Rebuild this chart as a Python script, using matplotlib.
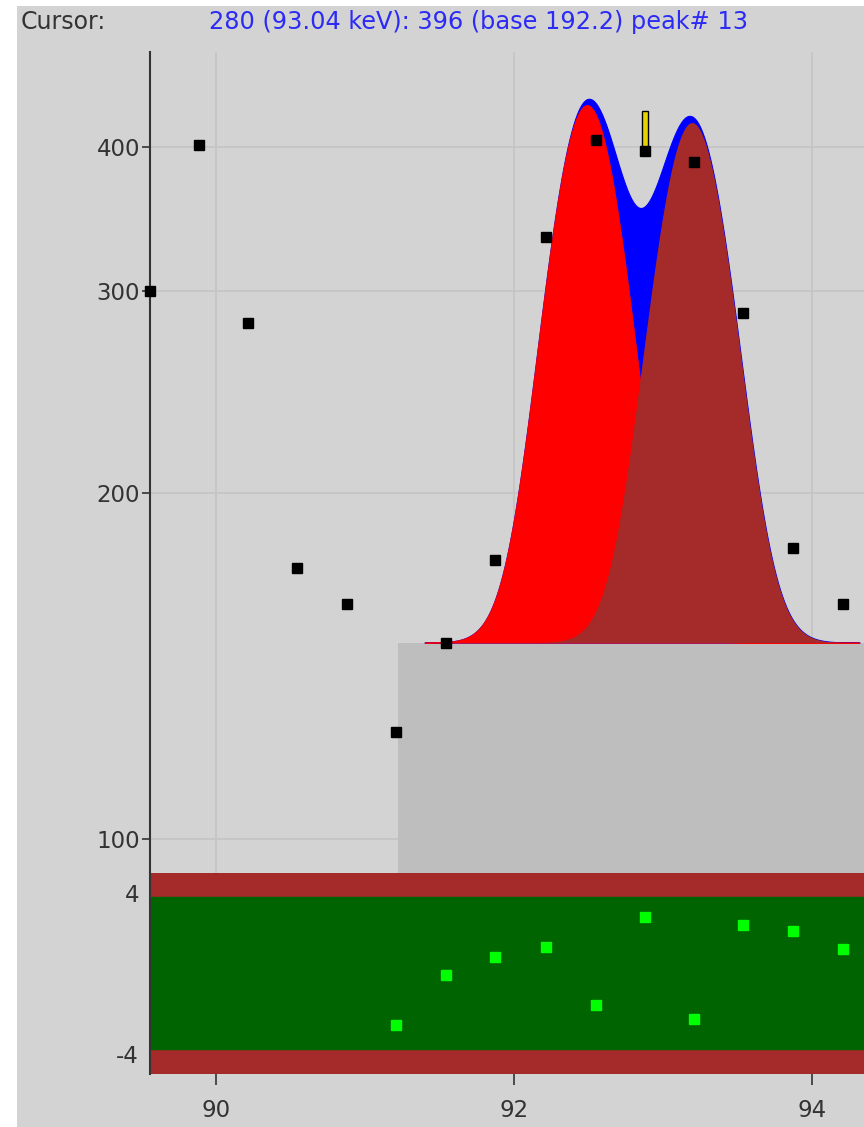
import numpy as np
import matplotlib
matplotlib.use("Agg")
import matplotlib.pyplot as plt
from matplotlib.patches import Rectangle

# channel data (keV, counts)
energy = [89.557, 89.886, 90.215, 90.544, 90.879, 91.208, 91.544, 91.872,
          92.215, 92.550, 92.879, 93.208, 93.537, 93.872, 94.208]
counts = [300, 402, 281, 172, 160, 124, 148, 175, 334, 406, 397, 388, 287, 179, 160]

# residuals for the fitted region
res_energy = [91.208, 91.544, 91.872, 92.215, 92.550, 92.879, 93.208, 93.537, 93.872, 94.208]
residuals = [-2.56, -0.07, 0.82, 1.32, -1.57, 2.81, -2.26, 2.41, 2.11, 1.22]

# fit: flat continuum + two gaussian peaks
continuum_level = 148.2
continuum_start = 91.22
peak_centers = [92.49, 93.195]
peak_amps = [287, 272]
peak_sigmas = [0.249, 0.25]
fit_range = (91.40, 94.32)

cursor_energy = 92.879
cursor_lo, cursor_hi = 398, 430

bg = '#d3d3d3'
fig = plt.figure(figsize=(8.64, 11.27), dpi=100, facecolor='white')
fig.patches.append(Rectangle((17/864, 0), 1, 1 - 6/1127, transform=fig.transFigure,
                             facecolor=bg, edgecolor='none', zorder=-10))

ax = fig.add_axes([150/864, 1 - 873/1127, 1 - 150/864, (873 - 52)/1127])
axr = fig.add_axes([150/864, 1 - 1074/1127, 1 - 150/864, (1074 - 873)/1127], sharex=ax)

for a in (ax, axr):
    a.set_facecolor(bg)
    for s in ('top', 'right', 'bottom'):
        a.spines[s].set_visible(False)
    a.spines['left'].set_color('#333333')
    a.spines['left'].set_linewidth(1.5)

xmin, xmax = 89.557, 94.35
ax.set_xlim(xmin, xmax)
ax.set_yscale('log')
ax.set_ylim(93.4, 484)
ax.set_yticks([100, 200, 300, 400])
ax.set_yticks([], minor=True)
ax.set_yticklabels(['100', '200', '300', '400'])
ax.set_xticks([90, 92, 94])
ax.set_axisbelow(True)
ax.grid(True, color='#c4c4c4', linewidth=1.2)
ax.tick_params(axis='x', length=0, labelbottom=False)
ax.tick_params(axis='y', length=6, width=1.2, color='#333333', labelsize=16.5,
               labelcolor='#333333', pad=1)

# continuum
ax.add_patch(Rectangle((continuum_start, 1), xmax - continuum_start + 1, continuum_level - 1,
                       facecolor='#bebebe', edgecolor='none', zorder=1))

e = np.linspace(fit_range[0], fit_range[1], 600)
g = [a_ * np.exp(-(e - c) ** 2 / (2 * s ** 2)) for c, a_, s in zip(peak_centers, peak_amps, peak_sigmas)]
total = continuum_level + g[0] + g[1]
ax.fill_between(e, continuum_level, total, color='#0000ff', linewidth=0.8, zorder=2)
ax.fill_between(e, continuum_level, continuum_level + g[0], color='#ff0000', linewidth=0.6, zorder=3)
ax.fill_between(e, continuum_level, continuum_level + g[1], color='#a52a2a', linewidth=0, zorder=4)

# cursor marker
ax.bar([cursor_energy], [cursor_hi - cursor_lo], bottom=cursor_lo, width=0.036,
       color='#e6d200', edgecolor='black', linewidth=1, zorder=5)

ax.plot(energy, counts, 's', color='black', markersize=6.5, zorder=6, clip_on=False)

# residual panel
axr.set_ylim(-5, 5)
axr.axhspan(3.8, 5, color='#a52a2a', zorder=1)
axr.axhspan(-5, -3.75, color='#a52a2a', zorder=1)
axr.axhspan(-3.75, 3.8, color='#006400', zorder=1)
axr.plot(res_energy, residuals, 's', color='#00ff00', markersize=6.5, zorder=3)
axr.set_yticks([-4, 4])
axr.set_yticklabels(['-4', '4'])
axr.tick_params(axis='y', length=0, labelsize=16.5, labelcolor='#333333', pad=8)
axr.tick_params(axis='x', length=8, width=1.2, color='#333333', labelsize=16.5,
                labelcolor='#333333', pad=10)

fig.text(21/864, 1 - 22/1127, 'Cursor:', fontsize=17, color='#333333', va='center')
fig.text(209/864, 1 - 22/1127, '280 (93.04 keV): 396 (base 192.2) peak# 13',
         fontsize=17.3, color='#2b2bf5', va='center')

fig.savefig('out.png', dpi=100, facecolor=fig.get_facecolor())
